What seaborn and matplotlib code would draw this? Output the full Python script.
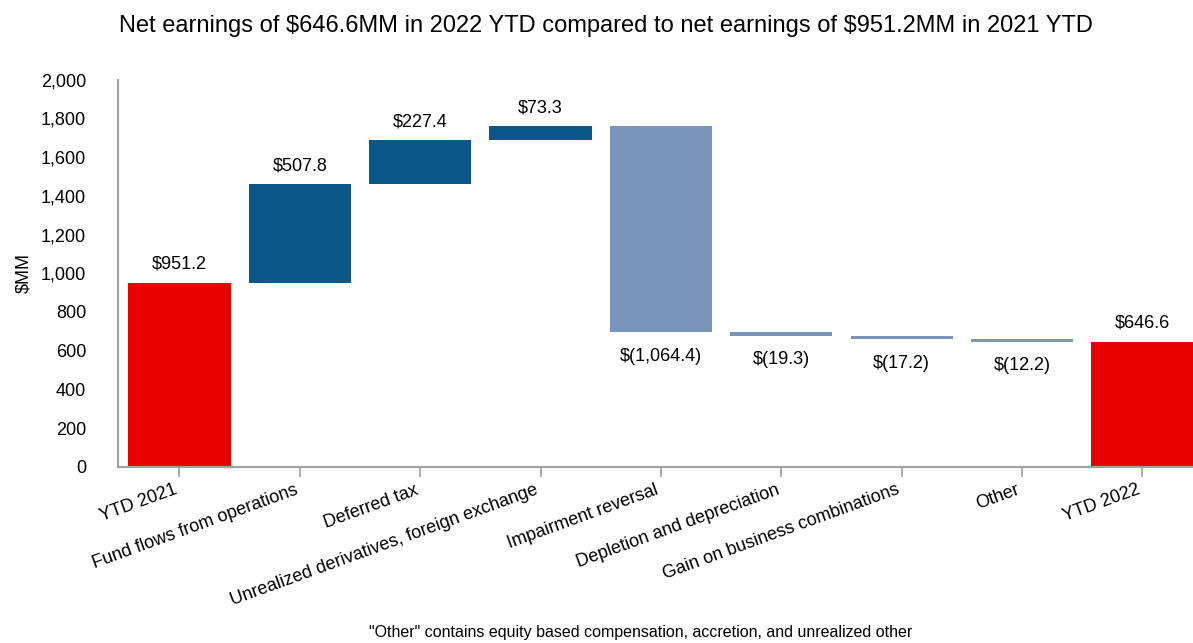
import numpy as np
import pandas as pd
import matplotlib
matplotlib.use("Agg")
import matplotlib.pyplot as plt
import matplotlib.ticker as mticker
import seaborn as sns

# waterfall data ($MM)
categories = [
    "YTD 2021",
    "Fund flows from operations",
    "Deferred tax",
    "Unrealized derivatives, foreign exchange",
    "Impairment reversal",
    "Depletion and depreciation",
    "Gain on business combinations",
    "Other",
    "YTD 2022",
]
changes = [951.2, 507.8, 227.4, 73.3, -1064.4, -19.3, -17.2, -12.2, 646.6]
kinds = ["total", "up", "up", "up", "down", "down", "down", "down", "total"]

colors = {"total": "#E90000", "up": "#0A588A", "down": "#7A95BB"}

# work out floating bar bottoms from the running sum
bottoms = []
heights = []
running = 0.0
for val, kind in zip(changes, kinds):
    if kind == "total":
        bottoms.append(0.0)
        heights.append(val)
        running = val
    else:
        if val >= 0:
            bottoms.append(running)
        else:
            bottoms.append(running + val)
        heights.append(abs(val))
        running += val

df = pd.DataFrame({"item": categories, "height": heights, "bottom": bottoms, "kind": kinds})

sns.set_style("white")
plt.rcParams["font.family"] = ["Liberation Sans", "DejaVu Sans"]
plt.rcParams["text.color"] = "black"
plt.rcParams["axes.labelcolor"] = "black"
plt.rcParams["xtick.labelcolor"] = "black"
plt.rcParams["ytick.labelcolor"] = "black"

fig = plt.figure(figsize=(11.93, 6.43), dpi=100)
ax = fig.add_axes([0.099, 0.274, 0.901, 0.602])

sns.barplot(data=df, x="item", y="height", bottom=df["bottom"].values,
            color=colors["up"], width=0.85, ax=ax, errorbar=None, saturation=1)

for patch, kind in zip(ax.patches, df["kind"]):
    patch.set_facecolor(colors[kind])
    patch.set_edgecolor("none")

def money(v):
    if v < 0:
        return "\\$({:,.1f})".format(abs(v))
    return "\\${:,.1f}".format(v)

for i, (val, b, h) in enumerate(zip(changes, df["bottom"], df["height"])):
    if val >= 0:
        ax.annotate(money(val), (i, b + h), xytext=(0, 7), textcoords="offset points",
                    ha="center", va="bottom", fontsize=13)
    else:
        ax.annotate(money(val), (i, b), xytext=(0, -11), textcoords="offset points",
                    ha="center", va="top", fontsize=13)

ax.set_ylim(0, 2000)
ax.set_xlim(-0.51, 8.42)
ax.yaxis.set_major_locator(mticker.MultipleLocator(200))
ax.yaxis.set_major_formatter(mticker.FuncFormatter(lambda v, p: "{:,.0f}".format(v)))
ax.tick_params(axis="y", length=0, labelsize=13, pad=23, labelcolor="black")
ax.tick_params(axis="x", length=7, width=1.2, color="#A0A0A0", labelsize=13,
               direction="out", bottom=True, labelcolor="black")
ax.set_xticks(range(len(categories)))
ax.set_xticklabels(categories, rotation=20, ha="right", rotation_mode="default")
ax.set_xlabel("")
ax.set_ylabel("\\$MM", fontsize=13, labelpad=6, color="black")

for side in ["top", "right"]:
    ax.spines[side].set_visible(False)
for side in ["left", "bottom"]:
    ax.spines[side].set_color("#A0A0A0")
    ax.spines[side].set_linewidth(1.5)

fig.suptitle("Net earnings of \\$646.6MM in 2022 YTD compared to net earnings of \\$951.2MM in 2021 YTD",
             x=0.508, y=0.977, fontsize=17, color="black")
fig.text(0.537, 0.005, '"Other" contains equity based compensation, accretion, and unrealized other',
         ha="center", va="bottom", fontsize=11.5, color="black")

fig.savefig("out.png", dpi=100)
